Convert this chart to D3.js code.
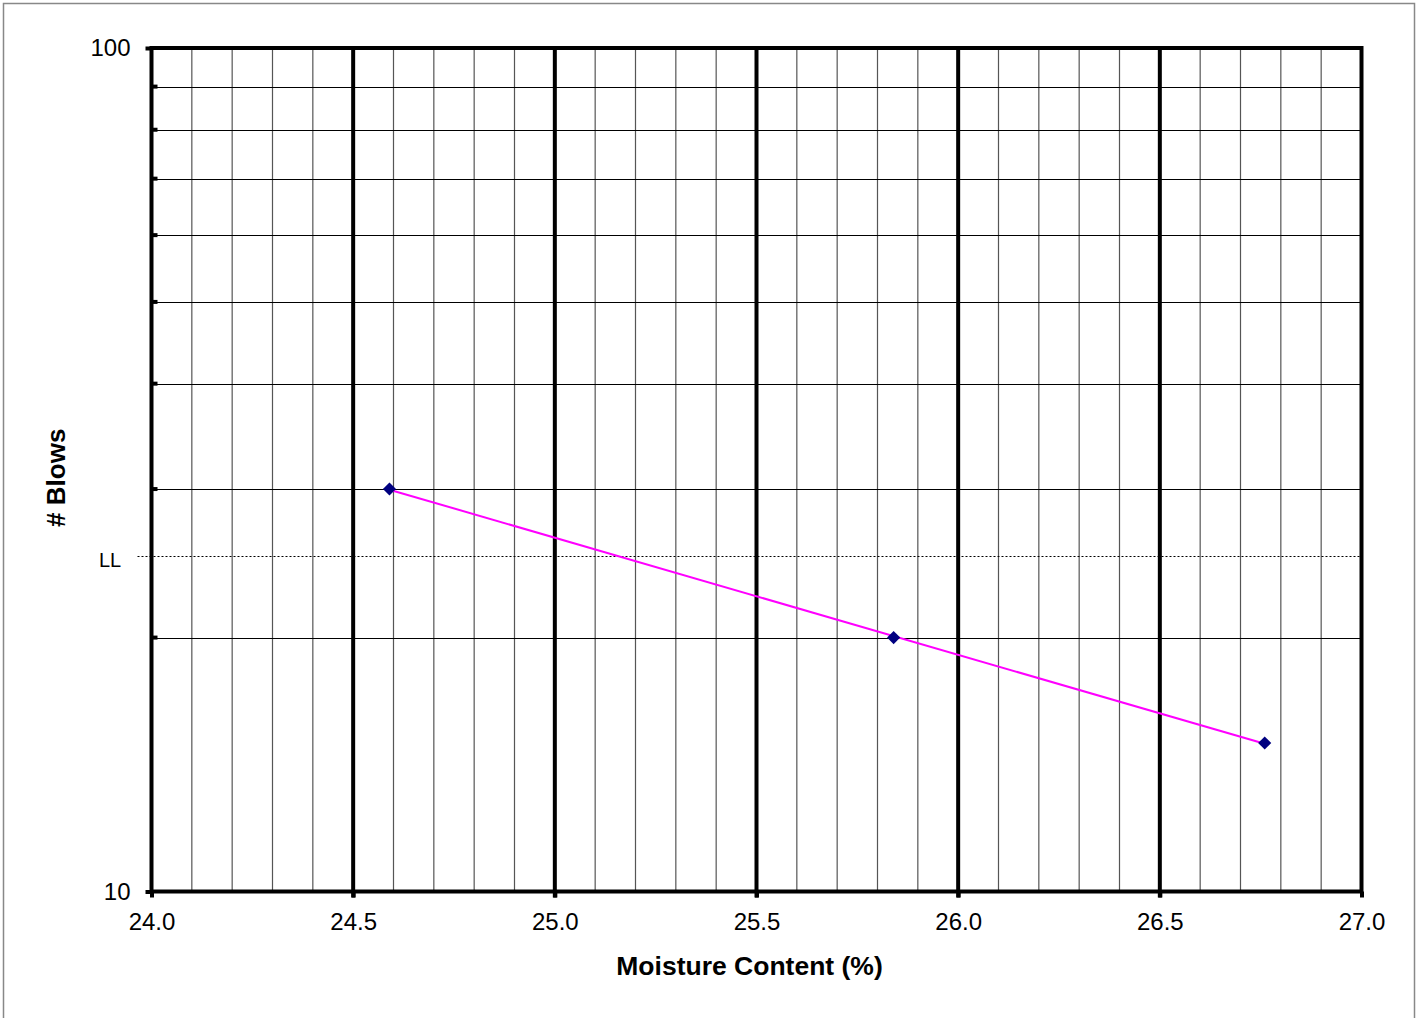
<!DOCTYPE html>
<html>
<head>
<meta charset="utf-8">
<script src="https://cdn.jsdelivr.net/npm/d3@7"></script>
<style>
  body { margin: 0; background: #fff; }
  text { font-family: Arial, "Liberation Sans", sans-serif; fill: #000; }
</style>
</head>
<body>
<div id="chart"></div>
<script>
// data
var moisture = [24.59, 25.84, 26.76];
var blows = [30, 20, 15];
var llBlows = 25;
var xTicks = [24.0, 24.5, 25.0, 25.5, 26.0, 26.5, 27.0];
var yTicks = [10, 100];
var yMinor = [20, 30, 40, 50, 60, 70, 80, 90];

var width = 1421, height = 1018,
    margin = {top: 48, right: 59.5, bottom: 126.5, left: 151.5};

var svg = d3.select("#chart").append("svg")
    .attr("width", width)
    .attr("height", height);

// outer frame
svg.append("rect")
    .attr("x", 3.5).attr("y", 3.5)
    .attr("width", 1411).attr("height", height + 20)
    .attr("fill", "none").attr("stroke", "#888").attr("stroke-width", 1.5);

var x = d3.scaleLinear().domain([24, 27]).range([margin.left, width - margin.right]);
var y = d3.scaleLog().domain([10, 100]).range([height - margin.bottom, margin.top]);

var g = svg.append("g");

// minor vertical grid, every 0.1
var minorX = d3.range(241, 270).map(function(d) { return d / 10; })
    .filter(function(d) { return Math.round(d * 10) % 5 != 0; });
g.selectAll(".vminor")
    .data(minorX)
    .enter().append("line")
      .attr("x1", function(d) { return x(d); })
      .attr("x2", function(d) { return x(d); })
      .attr("y1", y(100)).attr("y2", y(10))
      .attr("stroke", "#555").attr("stroke-width", 1.2);

// horizontal grid
g.selectAll(".hgrid")
    .data(yMinor)
    .enter().append("line")
      .attr("x1", x(24)).attr("x2", x(27))
      .attr("y1", function(d) { return Math.round(y(d)) + 0.5; })
      .attr("y2", function(d) { return Math.round(y(d)) + 0.5; })
      .attr("stroke", "#000").attr("stroke-width", 1);

// major vertical lines
g.selectAll(".vmajor")
    .data(xTicks.slice(1, -1))
    .enter().append("line")
      .attr("x1", function(d) { return x(d); })
      .attr("x2", function(d) { return x(d); })
      .attr("y1", y(100)).attr("y2", y(10) + 6)
      .attr("stroke", "#000").attr("stroke-width", 4);

// LL line
g.append("line")
    .attr("x1", x(24) - 14).attr("x2", x(27))
    .attr("y1", Math.round(y(llBlows)) + 0.5).attr("y2", Math.round(y(llBlows)) + 0.5)
    .attr("stroke", "#000").attr("stroke-width", 1)
    .attr("stroke-dasharray", "2,2");
svg.append("text")
    .attr("x", 99).attr("y", y(llBlows) + 11)
    .attr("font-size", 20)
    .text("LL");

// minor y ticks (inside)
g.selectAll(".ytickm")
    .data(yMinor)
    .enter().append("line")
      .attr("x1", x(24)).attr("x2", x(24) + 6)
      .attr("y1", function(d) { return y(d); })
      .attr("y2", function(d) { return y(d); })
      .attr("stroke", "#000").attr("stroke-width", 4);

// frame
g.append("rect")
    .attr("x", x(24)).attr("y", y(100))
    .attr("width", x(27) - x(24)).attr("height", y(10) - y(100))
    .attr("fill", "none").attr("stroke", "#000").attr("stroke-width", 4);

// axes
var xAxis = d3.axisBottom(x).tickValues(xTicks).tickFormat(d3.format(".1f"))
    .tickSize(6).tickPadding(15);
var gx = svg.append("g")
    .attr("transform", "translate(0," + y(10) + ")")
    .call(xAxis);
gx.select(".domain").remove();
gx.selectAll(".tick line").attr("stroke", "#000").attr("stroke-width", 4);
gx.selectAll(".tick text").attr("font-size", 24).attr("font-family", "Arial, 'Liberation Sans', sans-serif");

var yAxis = d3.axisLeft(y).tickValues(yTicks).tickFormat(d3.format("d"))
    .tickSize(6).tickPadding(15);
var gy = svg.append("g")
    .attr("transform", "translate(" + x(24) + ",0)")
    .call(yAxis);
gy.select(".domain").remove();
gy.selectAll(".tick line").attr("stroke", "#000").attr("stroke-width", 4);
gy.selectAll(".tick text").attr("font-size", 24).attr("font-family", "Arial, 'Liberation Sans', sans-serif");

// trend line (least squares of log blows on moisture)
var lx = moisture, ly = blows.map(function(d) { return Math.log10(d); });
var mx = d3.mean(lx), my = d3.mean(ly);
var sxy = d3.sum(lx, function(d, i) { return (d - mx) * (ly[i] - my); });
var sxx = d3.sum(lx, function(d) { return (d - mx) * (d - mx); });
var slope = sxy / sxx, icpt = my - slope * mx;
var ends = d3.extent(moisture);
svg.append("path")
    .datum(ends)
    .attr("fill", "none").attr("stroke", "#ff00ff").attr("stroke-width", 2)
    .attr("d", d3.line()
        .x(function(d) { return x(d); })
        .y(function(d) { return y(Math.pow(10, icpt + slope * d)); }));

// points
svg.selectAll(".pt")
    .data(moisture)
    .enter().append("path")
      .attr("d", d3.symbol().type(d3.symbolDiamond2).size(110))
      .attr("transform", function(d, i) { return "translate(" + x(d) + "," + y(blows[i]) + ")"; })
      .attr("fill", "#000080");

// titles
svg.append("text")
    .attr("x", (x(24) + x(27)) / 2 - 7).attr("y", 975)
    .attr("text-anchor", "middle")
    .attr("font-size", 26.5).attr("font-weight", "bold")
    .text("Moisture Content (%)");
svg.append("text")
    .attr("transform", "translate(65," + ((y(10) + y(100)) / 2 + 8) + ") rotate(-90)")
    .attr("text-anchor", "middle")
    .attr("font-size", 26).attr("font-weight", "bold")
    .text("# Blows");
</script>
</body>
</html>
